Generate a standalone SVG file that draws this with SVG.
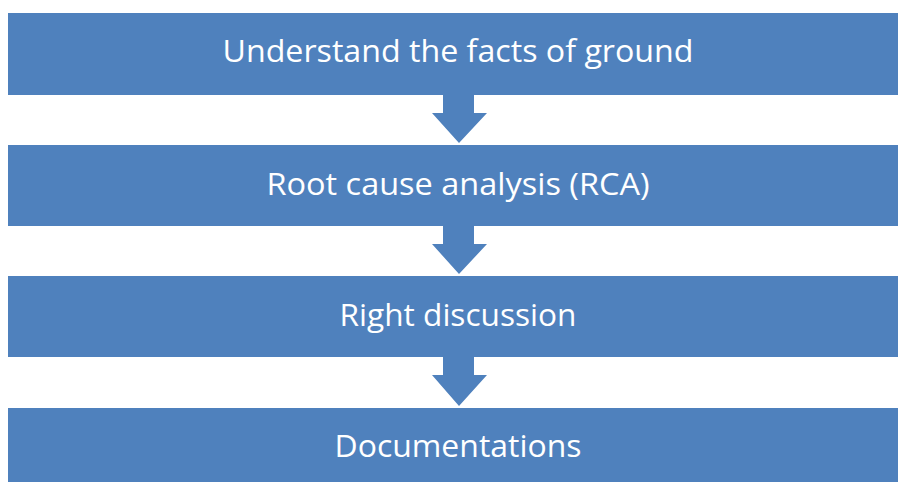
<svg xmlns="http://www.w3.org/2000/svg" width="898" height="482" viewBox="0 0 898 482">
<style>
.box{fill:#4F81BD}
.arr{fill:#4F81BD}
.lbl{fill:#FFFFFF;font-family:"Open Sans","Liberation Sans",sans-serif;font-size:31px;text-anchor:middle}
</style>
<rect width="898" height="482" fill="#FFFFFF"/>
<g id="node1"><rect class="box" x="8" y="13" width="902" height="82"/><text class="lbl" x="458" y="62" textLength="471" lengthAdjust="spacingAndGlyphs">Understand the facts of ground</text></g>
<g id="node2"><rect class="box" x="8" y="145" width="902" height="81"/><text class="lbl" x="458" y="195" textLength="383" lengthAdjust="spacingAndGlyphs">Root cause analysis (RCA)</text></g>
<g id="node3"><rect class="box" x="8" y="276" width="902" height="81"/><text class="lbl" x="458" y="326" textLength="237" lengthAdjust="spacingAndGlyphs">Right discussion</text></g>
<g id="node4"><rect class="box" x="8" y="408" width="902" height="82"/><text class="lbl" x="458" y="457" textLength="247" lengthAdjust="spacingAndGlyphs">Documentations</text></g>
<g id="connectors">
<polygon class="arr" points="443,95 474,95 474,113 487,113 459,143 432,113 443,113"/>
<polygon class="arr" points="443,226 474,226 474,244 487,244 459,274 432,244 443,244"/>
<polygon class="arr" points="443,357 474,357 474,375 487,375 459,406 432,375 443,375"/>
</g>
</svg>
